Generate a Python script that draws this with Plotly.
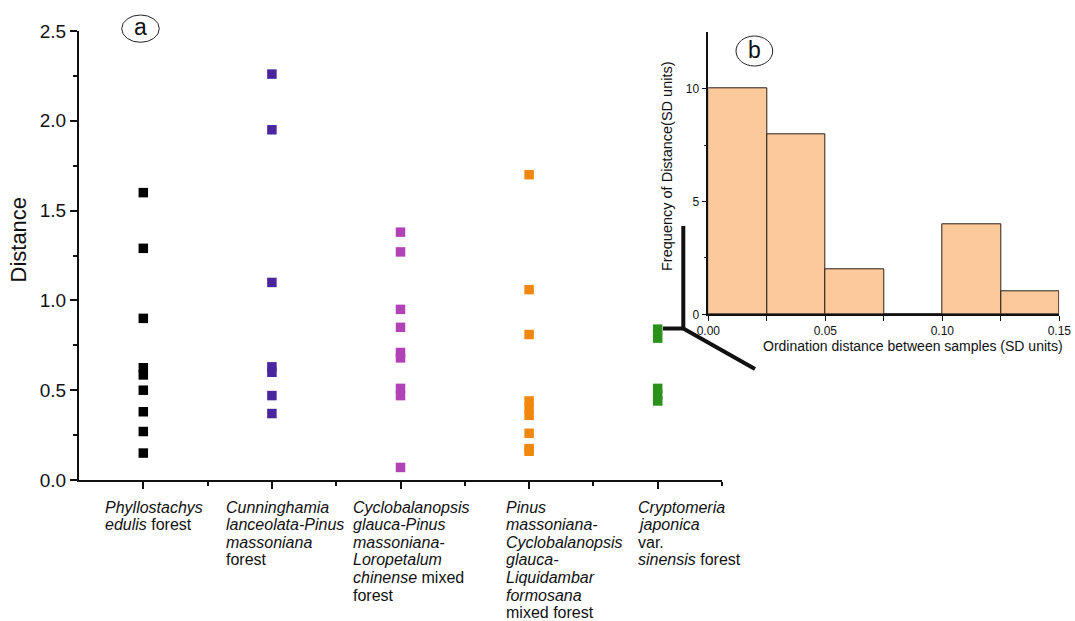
import plotly.graph_objects as go

# ---- data -------------------------------------------------------------
forest_types = [
    ["<i>Phyllostachys</i>", "<i>edulis</i> forest"],
    ["<i>Cunninghamia</i>", "<i>lanceolata-Pinus</i>", "<i>massoniana</i>", "forest"],
    ["<i>Cyclobalanopsis</i>", "<i>glauca-Pinus</i>", "<i>massoniana-</i>",
     "<i>Loropetalum</i>", "<i>chinense</i> mixed", "forest"],
    ["<i>Pinus</i>", "<i>massoniana-</i>", "<i>Cyclobalanopsis</i>", "<i>glauca-</i>",
     "<i>Liquidambar</i>", "<i>formosana</i>", "mixed forest"],
    ["<i>Cryptomeria</i>", "<i>japonica</i>", "var.", "<i>sinensis</i> forest"],
]

phyllostachys = [1.60, 1.29, 0.90, 0.625, 0.585, 0.50, 0.38, 0.27, 0.15]
cunninghamia = [2.26, 1.95, 1.10, 0.63, 0.60, 0.47, 0.37]
cyclobalanopsis = [1.38, 1.27, 0.95, 0.85, 0.71, 0.68, 0.51, 0.47, 0.07]
pinus = [1.70, 1.06, 0.81, 0.44, 0.40, 0.36, 0.26, 0.175, 0.16]
cryptomeria = [0.84, 0.79, 0.51, 0.47, 0.44]

series = [phyllostachys, cunninghamia, cyclobalanopsis, pinus, cryptomeria]
series_colors = ["#000000", "#4a25a0", "#b142b6", "#f0880f", "#2a921a"]

bin_left = [0.000, 0.025, 0.050, 0.075, 0.100, 0.125]
bin_width = 0.025
frequency = [10, 8, 2, 0, 4, 1]

# ---- page geometry (pixels) -------------------------------------------
W, H = 1075, 621


def px(x):
    return x / W


def py(y):
    return 1 - y / H


FONT = "Arial, Liberation Sans, sans-serif"

fig = go.Figure()

# panel (a): distances per forest type
for i, vals in enumerate(series):
    fig.add_trace(go.Scatter(
        x=[i + 1] * len(vals), y=vals, mode="markers",
        marker=dict(symbol="square", size=9.5, color=series_colors[i],
                    line=dict(width=0)),
        showlegend=False, xaxis="x", yaxis="y",
    ))

# panel (b): histogram of ordination distances
fig.add_trace(go.Bar(
    x=[b + bin_width / 2 for b in bin_left], y=frequency, width=bin_width,
    marker=dict(color="#fcca9a", line=dict(color="#2a2018", width=1)),
    showlegend=False, xaxis="x2", yaxis="y2",
))

axis_common = dict(showgrid=False, zeroline=False, showline=True,
                   linecolor="#111", ticks="outside", tickcolor="#111",
                   mirror=False, automargin=False)

fig.update_layout(
    template="none",
    width=W, height=H, autosize=False,
    margin=dict(l=0, r=0, t=0, b=0, pad=0, autoexpand=False),
    paper_bgcolor="white", plot_bgcolor="rgba(0,0,0,0)",
    font=dict(family=FONT, color="#111"),
    bargap=0,
    xaxis=dict(
        **axis_common, domain=[px(79), px(722)], range=[0.5, 5.5],
        tickvals=[1, 2, 3, 4, 5], ticktext=[""] * 5, linewidth=2,
        ticklen=7, tickwidth=2,
        minor=dict(tickvals=[1.5, 2.5, 3.5, 4.5, 5.5], ticklen=4,
                   tickwidth=2, ticks="outside", tickcolor="#111"),
        anchor="y",
    ),
    yaxis=dict(
        **axis_common, domain=[py(480), py(31)], range=[0, 2.5],
        tickvals=[0, 0.5, 1.0, 1.5, 2.0, 2.5], tickformat=".1f",
        linewidth=2, ticklen=7, tickwidth=2,
        tickfont=dict(size=19, family=FONT, color="#111"),
        minor=dict(tickvals=[0.25, 0.75, 1.25, 1.75, 2.25], ticklen=4,
                   tickwidth=2, ticks="outside", tickcolor="#111"),
        anchor="x",
    ),
    xaxis2=dict(
        **axis_common, domain=[px(708.3), px(1059.3)], range=[0, 0.15],
        tickvals=[0, 0.05, 0.10, 0.15], tickformat=".2f", linewidth=1.5,
        ticklen=5, tickwidth=1,
        tickfont=dict(size=12, family=FONT, color="#111"),
        minor=dict(tickvals=[0.025, 0.075, 0.125], ticklen=5, tickwidth=1,
                   ticks="outside", tickcolor="#111"),
        anchor="y2",
    ),
    yaxis2=dict(
        **axis_common, domain=[py(314.3), py(32.3)], range=[0, 12.5],
        tickvals=[0, 5, 10], linewidth=1.5, ticklen=5, tickwidth=1,
        tickfont=dict(size=12, family=FONT, color="#111"),
        minor=dict(tickvals=[2.5, 7.5], ticklen=3, tickwidth=1,
                   ticks="outside", tickcolor="#111"),
        anchor="x2",
    ),
)


def label(text, x, y, size, angle=0, xanchor="center"):
    return dict(text=text, x=px(x), y=py(y), xref="paper", yref="paper",
                xanchor=xanchor, yanchor="middle", showarrow=False,
                textangle=angle, borderpad=0,
                font=dict(size=size, family=FONT, color="#111"))


annotations = [
    # axis titles
    label("Distance", 18.5, 240, 22, angle=-90),
    label("Frequency of Distance(SD units)", 667, 166, 14.5, angle=-90),
    label("Ordination distance between samples (SD units)", 912.5, 346, 14),
    # panel letters
    label("a", 140.5, 27, 23),
    label("b", 754.3, 49.5, 23),
]

# category labels under panel (a), one annotation per line
label_left = [104, 225, 352, 505, 637]
first_line_y = 507
line_step = 17.6
for left, lines in zip(label_left, forest_types):
    for k, line in enumerate(lines):
        annotations.append(label(line, left, first_line_y + k * line_step,
                                 16, xanchor="left"))

shapes = [
    dict(type="circle", xref="paper", yref="paper",
         x0=px(121.7), x1=px(159.3), y0=py(42.3), y1=py(15),
         line=dict(color="#222", width=1)),
    dict(type="circle", xref="paper", yref="paper",
         x0=px(736), x1=px(772.7), y0=py(66), y1=py(36),
         line=dict(color="#222", width=1)),
    # connector from the Cryptomeria points to the inset
    dict(type="line", xref="paper", yref="paper",
         x0=px(663), y0=py(328.5), x1=px(683.3), y1=py(328.5),
         line=dict(color="#111", width=4)),
    dict(type="line", xref="paper", yref="paper",
         x0=px(683.3), y0=py(330), x1=px(683.3), y1=py(226),
         line=dict(color="#111", width=4)),
    dict(type="line", xref="paper", yref="paper",
         x0=px(683.3), y0=py(328.5), x1=px(755), y1=py(369),
         line=dict(color="#111", width=4)),
]

fig.update_layout(annotations=annotations, shapes=shapes)

fig.write_html("out.html")
